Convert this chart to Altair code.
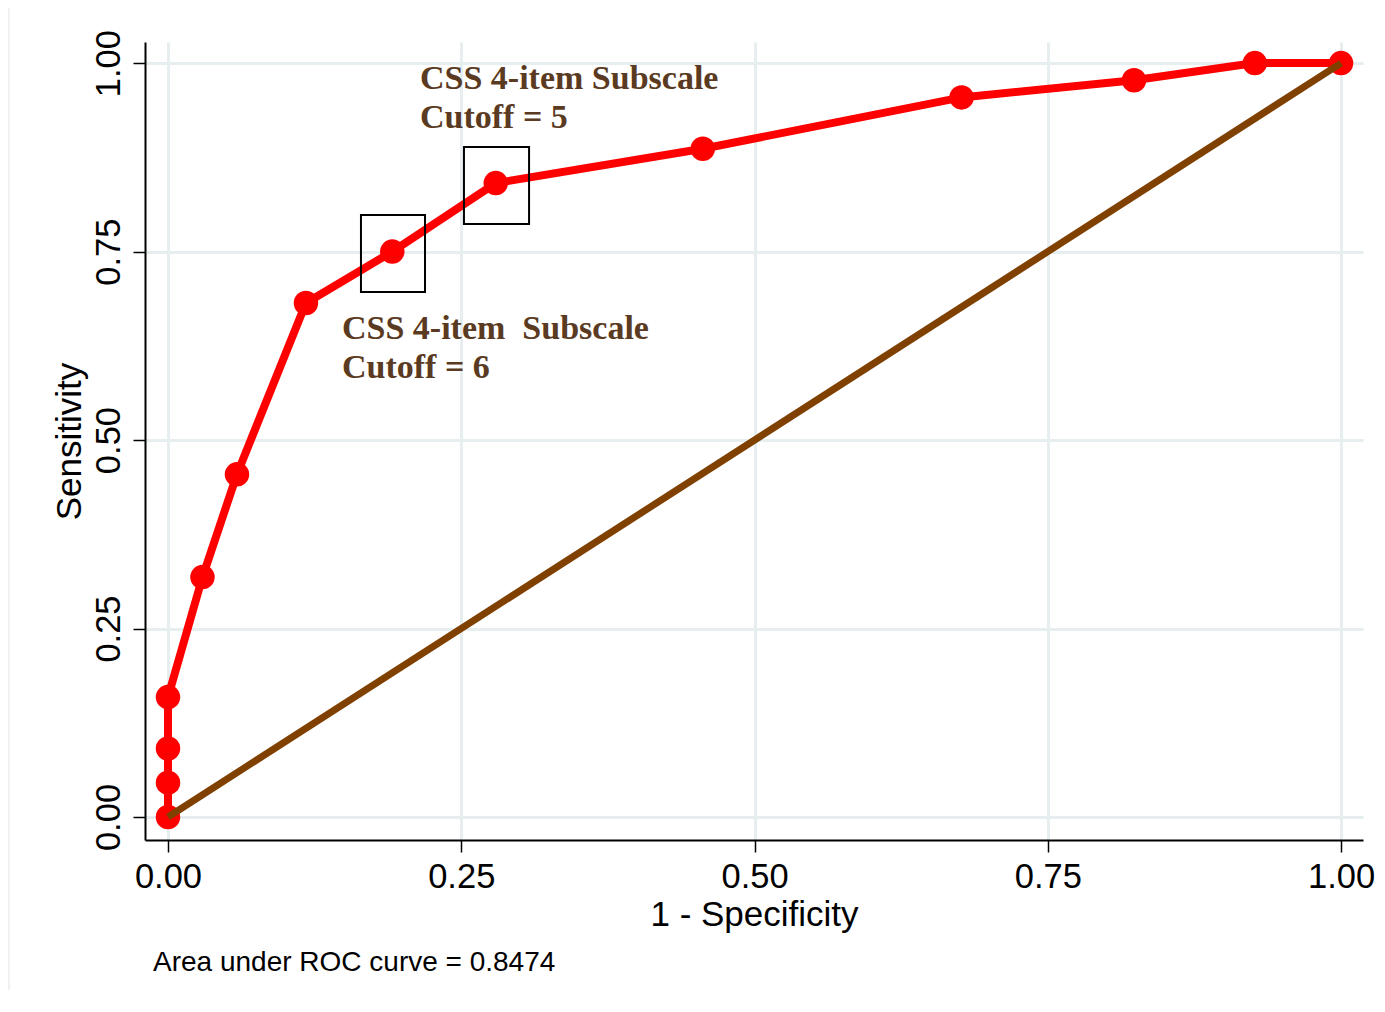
import altair as alt
import pandas as pd

# ROC curve points (1 - specificity, sensitivity)
fpr = [0.0, 0.0, 0.0, 0.0, 0.0294, 0.0588, 0.1176, 0.1912, 0.2794, 0.4559, 0.6765, 0.8235, 0.9265, 1.0]
tpr = [0.0, 0.0455, 0.0909, 0.1591, 0.3182, 0.4545, 0.6818, 0.75, 0.8409, 0.8864, 0.9545, 0.9773, 1.0, 1.0]

# reference diagonal
diag_x = [0.0, 1.0]
diag_y = [0.0, 1.0]

# highlighted cutoffs (boxes around points)
box_x = [0.1645, 0.2523]
box_x2 = [0.2191, 0.3078]
box_y = [0.6963, 0.7865]
box_y2 = [0.7984, 0.8886]

# annotations
ann_text = ["CSS 4-item Subscale\nCutoff = 5", "CSS 4-item \u00a0Subscale\nCutoff = 6"]
ann_x = [0.2148, 0.1483]
ann_y = [0.9655, 0.634]

ticks = [0.0, 0.25, 0.5, 0.75, 1.0]
auc_label = "Area under ROC curve = 0.8474"

roc = pd.DataFrame({"x": fpr, "y": tpr, "order": list(range(len(fpr)))})
diag = pd.DataFrame({"x": diag_x, "y": diag_y})
boxes = pd.DataFrame({"x": box_x, "x2": box_x2, "y": box_y, "y2": box_y2})
ann = pd.DataFrame({"x": ann_x, "y": ann_y, "t": ann_text})

xscale = alt.Scale(domain=[-0.0196, 1.0187], nice=False, zero=False)
yscale = alt.Scale(domain=[-0.0305, 1.028], nice=False, zero=False)

FONT = "Liberation Sans"

xaxis = alt.Axis(values=ticks, format=".2f", title="1 - Specificity",
                 tickSize=12, tickWidth=1.5, tickColor="black",
                 labelPadding=8, labelFontSize=34.5, labelFont=FONT, labelColor="black",
                 titleFontSize=35, titleFont=FONT, titleFontWeight="normal", titleColor="black",
                 titlePadding=4, domainColor="black", domainWidth=2,
                 grid=True, gridColor="#e6eef0", gridWidth=3, labelFlush=False)
yaxis = alt.Axis(values=ticks, format=".2f", title="Sensitivity",
                 tickSize=12, tickWidth=1.5, tickColor="black",
                 labelPadding=7, labelFontSize=34.5, labelFont=FONT, labelColor="black",
                 labelAngle=270, labelAlign="center", labelBaseline="bottom",
                 titleFontSize=35, titleFont=FONT, titleFontWeight="normal", titleColor="black",
                 titlePadding=4, domainColor="black", domainWidth=2,
                 grid=True, gridColor="#e6eef0", gridWidth=3, labelFlush=False)

base_line = alt.Chart(roc).mark_line(color="#ff0000", strokeWidth=8).encode(
    x=alt.X("x:Q", scale=xscale, axis=xaxis),
    y=alt.Y("y:Q", scale=yscale, axis=yaxis),
    order="order:Q",
)
pts = alt.Chart(roc).mark_point(shape="circle", filled=True, color="#ff0000",
                                 size=600, opacity=1).encode(
    x=alt.X("x:Q", scale=xscale),
    y=alt.Y("y:Q", scale=yscale),
)
diag_line = alt.Chart(diag).mark_line(color="#7f4000", strokeWidth=7).encode(
    x=alt.X("x:Q", scale=xscale),
    y=alt.Y("y:Q", scale=yscale),
)
box_marks = alt.Chart(boxes).mark_rect(fill=None, stroke="black", strokeWidth=2, fillOpacity=0).encode(
    x=alt.X("x:Q", scale=xscale), x2="x2:Q",
    y=alt.Y("y:Q", scale=yscale), y2="y2:Q",
)
ann_marks = alt.Chart(ann).mark_text(align="left", baseline="alphabetic", lineBreak="\n",
                                     lineHeight=39, font="Liberation Serif", fontWeight="bold",
                                     fontSize=34, color="#5b3a22").encode(
    x=alt.X("x:Q", scale=xscale),
    y=alt.Y("y:Q", scale=yscale),
    text="t:N",
)
auc_text = alt.Chart(pd.DataFrame({"t": [auc_label]})).mark_text(
    align="left", baseline="alphabetic", font=FONT, fontSize=28, color="black"
).encode(x=alt.value(8), y=alt.value(929), text="t:N")

frame_left = alt.Chart(pd.DataFrame({"a": [0]})).mark_rule(color="#ececec", strokeWidth=1.5).encode(
    x=alt.value(-136), y=alt.value(-35), y2=alt.value(965))
frame_top = alt.Chart(pd.DataFrame({"a": [0]})).mark_rule(color="#ececec", strokeWidth=1.5).encode(
    x=alt.value(-136), x2=alt.value(1232), y=alt.value(-35))

chart = alt.layer(frame_left, frame_top, base_line, pts, box_marks, ann_marks, diag_line, auc_text).properties(
    width=1218, height=798,
    padding={"left": 137, "top": 34, "right": 14, "bottom": 150},
    autosize=alt.AutoSizeParams(type="none"),
    background="white",
).configure_view(stroke=None)

chart.save("out.html", embed_options={"renderer": "svg", "actions": False})
